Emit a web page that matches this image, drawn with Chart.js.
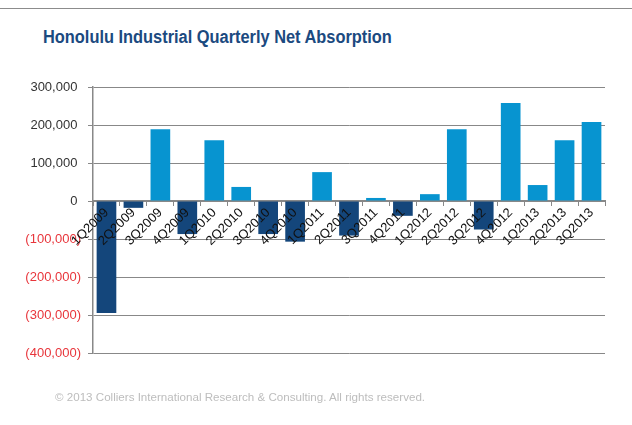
<!DOCTYPE html>
<html>
<head>
<meta charset="utf-8">
<script src="https://cdn.jsdelivr.net/npm/chart.js@4.4.0/dist/chart.umd.min.js"></script>
<style>
  body { margin: 0; background: #fff; width: 632px; height: 425px; overflow: hidden; position: relative; font-family: "Liberation Sans", Arial, sans-serif; }
  .topline { position: absolute; left: 0; top: 8px; width: 632px; height: 1px; background: #8c8c8c; }
  .title { position: absolute; left: 43px; top: 27px; font-size: 18px; font-weight: bold; color: #1b4a80; white-space: nowrap; transform: scaleX(0.91); transform-origin: left top; }
  .footer { position: absolute; left: 55px; top: 390px; font-size: 11.6px; color: #bdbdbd; white-space: nowrap; }
  #wrap { position: absolute; left: 0; top: 0; width: 632px; height: 425px; }
</style>
</head>
<body>
<div class="topline"></div>
<div class="title">Honolulu Industrial Quarterly Net Absorption</div>
<div id="wrap"><canvas id="absorptionChart" width="632" height="425"></canvas></div>
<div class="footer">© 2013 Colliers International Research &amp; Consulting. All rights reserved.</div>

<script>
var quarters = ['1Q2009', '2Q2009', '3Q2009', '4Q2009', '1Q2010', '2Q2010', '3Q2010', '4Q2010',
  '1Q2011', '2Q2011', '3Q2011', '4Q2011', '1Q2012', '2Q2012', '3Q2012', '4Q2012',
  '1Q2013', '2Q2013', '3Q2013'];
var netAbsorption = [-295000, -18000, 189000, -87000, 160000, 37000, -87000, -107000,
  76000, -91000, 8000, -39000, 18000, 189000, -75000, 258000,
  42000, 160000, 208000];
var yTicks = [300000, 200000, 100000, 0, -100000, -200000, -300000, -400000];

var positiveColor = '#0794d0';
var negativeColor = '#14467b';

// excel style numbers, negatives in brackets
function formatTick(value) {
  var s = Math.abs(value).toLocaleString('en-US');
  if (value < 0) return '(' + s + ')';
  return s + ' ';
}

var barColors = netAbsorption.map(function (v) {
  return v < 0 ? negativeColor : positiveColor;
});

var ctx = document.getElementById('absorptionChart');
var absorptionChart = new Chart(ctx, {
  type: 'bar',
  data: {
    labels: quarters,
    datasets: [{
      label: 'Net Absorption',
      data: netAbsorption,
      backgroundColor: barColors,
      barPercentage: 0.73,
      categoryPercentage: 1
    }]
  },
  options: {
    responsive: false,
    animation: false,
    layout: {
      padding: { left: 0, right: 27, top: 87, bottom: 72 }
    },
    plugins: {
      legend: { display: false },
      tooltip: { enabled: false }
    },
    scales: {
      x: {
        position: { y: 0 },
        grid: {
          drawOnChartArea: false,
          drawTicks: true,
          tickLength: 4,
          color: '#888'
        },
        border: { color: '#888', width: 2 },
        ticks: {
          z: 1, // labels sit on top of the bars
          minRotation: 45,
          maxRotation: 45,
          padding: 0,
          color: '#111',
          font: { family: 'Liberation Sans, Arial', size: 13 }
        }
      },
      y: {
        min: -400000,
        max: 300000,
        afterBuildTicks: function (scale) {
          scale.ticks = yTicks.map(function (v) { return { value: v }; });
        },
        afterFit: function (scale) {
          scale.width = 93;
        },
        grid: {
          color: '#888',
          tickLength: 5,
          lineWidth: 1
        },
        border: { color: '#888', width: 1.5 },
        ticks: {
          padding: 7,
          callback: function (value) { return formatTick(value); },
          color: function (c) { return c.tick.value < 0 ? '#e8353b' : '#333'; },
          font: { family: 'Liberation Sans, Arial', size: 13 }
        }
      }
    }
  }
});
</script>
</body>
</html>
